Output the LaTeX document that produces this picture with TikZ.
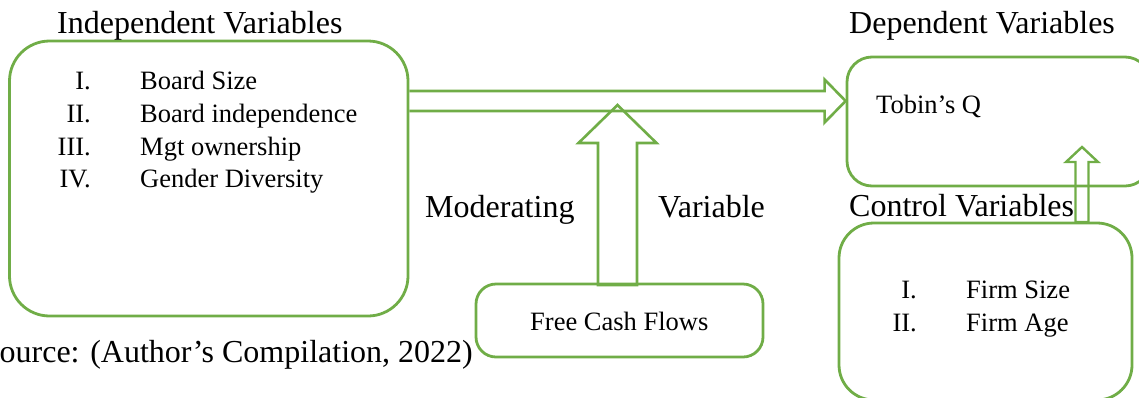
\documentclass[tikz,border=0pt]{standalone}
\usepackage{fontspec}
\setmainfont{Liberation Serif}
\usetikzlibrary{calc}
\definecolor{boxgreen}{HTML}{70AD47}
\tikzset{
  gbox/.style={draw=boxgreen, line width=2.8pt, inner sep=0pt},
  garrow/.style={draw=boxgreen, line width=2.6pt, line join=miter},
  big/.style={font=\fontsize{32}{38}\selectfont, inner sep=0pt},
  small/.style={font=\fontsize{26.5}{32}\selectfont, inner sep=0pt},
}
\begin{document}
\begin{tikzpicture}[x=1pt,y=-1pt]
\clip (0,0) rectangle (1139,397);
% boxes
\node[gbox, rounded corners=40pt, minimum width=398.5pt, minimum height=275pt] (ind) at (208.75,178.5) {};
\node[gbox, rounded corners=25pt, minimum width=303pt, minimum height=129pt] (dep) at (998.5,121.5) {};
\node[gbox, rounded corners=35pt, minimum width=293pt, minimum height=177pt] (ctl) at (985.5,311.5) {};
\node[gbox, rounded corners=20pt, minimum width=287pt, minimum height=73pt] (fcf) at (619.5,320.5) {};
% titles
\node[big, anchor=base west] (tind) at (57,33) {Independent Variables};
\node[big, anchor=base west] (tdep) at (849,33) {Dependent Variables};
\node[big, anchor=base west] (tctl) at (849,216) {Control Variables};
\node[big, anchor=base west] (tmod) at (425,217) {Moderating};
\node[big, anchor=base west] (tvar) at (658,217) {Variable};
\node[big, anchor=base east] (src) at (473,362) {Source: (Author’s Compilation, 2022)};
% independent list
\node[small, anchor=base east] (n1) at (91,89) {I.};
\node[small, anchor=base west] (i1) at (140,89) {Board Size};
\node[small, anchor=base east] (n2) at (91,122) {II.};
\node[small, anchor=base west] (i2) at (140,122) {Board independence};
\node[small, anchor=base east] (n3) at (91,155) {III.};
\node[small, anchor=base west] (i3) at (140,155) {Mgt ownership};
\node[small, anchor=base east] (n4) at (91,187) {IV.};
\node[small, anchor=base west] (i4) at (140,187) {Gender Diversity};
% dependent
\node[small, anchor=base west] (tq) at (876,113) {Tobin’s Q};
% control list
\node[small, anchor=base east] (c1n) at (917,298) {I.};
\node[small, anchor=base west] (c1) at (966,298) {Firm Size};
\node[small, anchor=base east] (c2n) at (917,331) {II.};
\node[small, anchor=base west] (c2) at (966,331) {Firm Age};
% fcf text
\node[small, anchor=base west] (tfcf) at (530,330) {Free Cash Flows};
% arrow end points
\coordinate (hS) at (ind.east |- 0,101);
\coordinate (hT) at (dep.west |- 0,101);
\coordinate (vB) at ($(fcf.north)+(-2,2.5)$);
\coordinate (vT) at (617.5,105);
\coordinate (sB) at (1082,222);
\coordinate (sT) at (1082,147);
% main horizontal block arrow
\draw[garrow] ($(hS)+(0,-10)$) -- ($(hT)+(-21,-10)$) -- ($(hT)+(-21,-21.5)$) -- (hT)
  -- ($(hT)+(-21,21.5)$) -- ($(hT)+(-21,10)$) -- ($(hS)+(0,10)$);
% moderating block arrow
\draw[garrow] ($(vB)+(-19.5,0)$) -- ($(vT)+(-19.5,38)$) -- ($(vT)+(-39,38)$) -- (vT)
  -- ($(vT)+(39,38)$) -- ($(vT)+(19.5,38)$) -- ($(vB)+(19.5,0)$) -- cycle;
% control block arrow
\draw[garrow, line width=2.4pt] ($(sB)+(-6.5,0)$) -- ($(sT)+(-6.5,15)$) -- ($(sT)+(-16,15)$) -- (sT)
  -- ($(sT)+(16,15)$) -- ($(sT)+(6.5,15)$) -- ($(sB)+(6.5,0)$) -- cycle;
\end{tikzpicture}
\end{document}
